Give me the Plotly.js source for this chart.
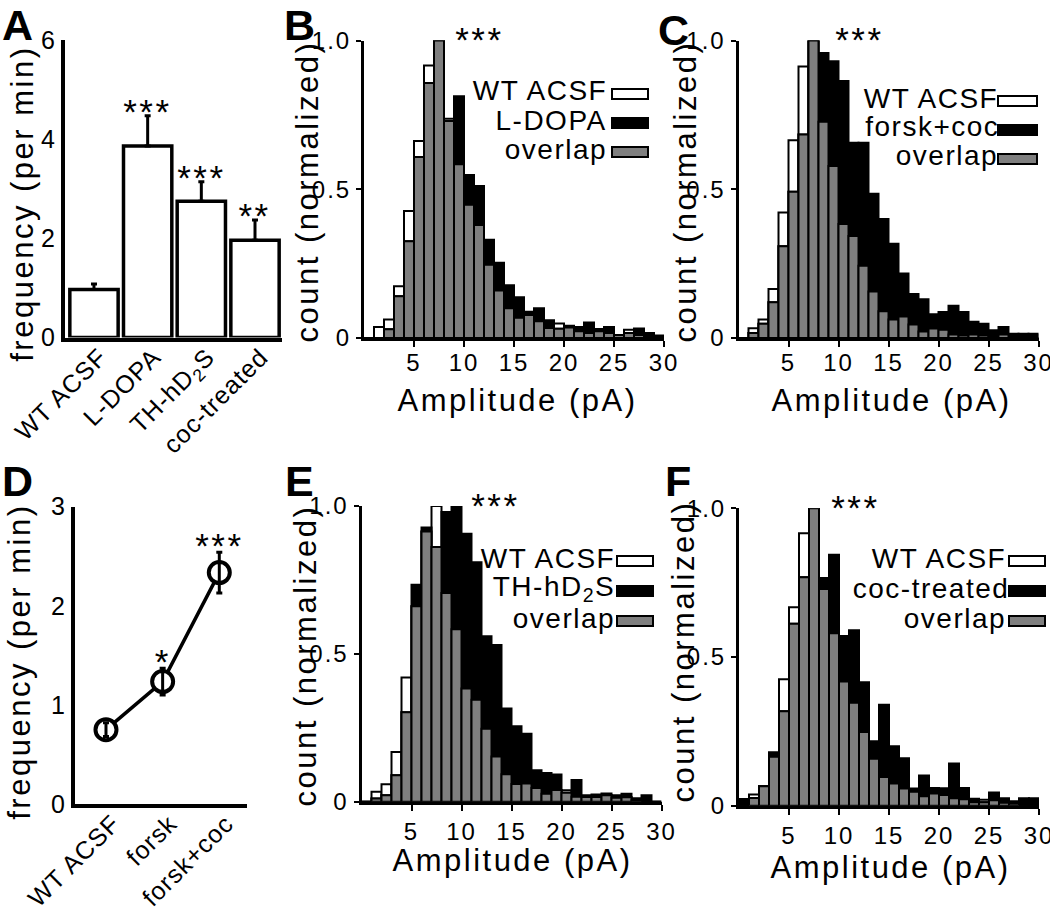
<!DOCTYPE html>
<html>
<head>
<meta charset="utf-8">
<script src="https://cdn.plot.ly/plotly-3.0.1.min.js"></script>
<style>
html, body { margin:0; padding:0; background:#fff; }
#chart { width:1050px; height:909px; }
.main-svg text { letter-spacing: 1px; }
.main-svg text[style*="font-size: 24px"] { letter-spacing: 2px; }
.main-svg text[style*="font-size: 31px"],
.main-svg text[style*="font-size: 35px"] { letter-spacing: 2.5px; }
.main-svg text[style*="font-size: 28px"] { letter-spacing: 1.5px; }
.main-svg text[style*="font-size: 43px"] { letter-spacing: 0px; }
</style>
</head>
<body>
<div id="chart"></div>
<script>
// ================= DATA =================
// Panel A: frequency (per min), bar chart
const aCategories = ['WT ACSF', 'L-DOPA', 'TH-hD<sub>2</sub>S', 'coc-treated'];
const aFrequency  = [0.97, 3.86, 2.75, 1.96];
const aError      = [0.11, 0.61, 0.39, 0.41];
const aStars      = ['', '***', '***', '**'];

// Panel D: frequency (per min), line chart
const dCategories = ['WT ACSF', 'forsk', 'forsk+coc'];
const dFrequency  = [0.75, 1.235, 2.335];
const dError      = [0.07, 0.135, 0.205];
const dStars      = ['', '*', '***'];

// Histograms: 1 pA bins, bin centres (pA)
const binCenters = [0.5, 1.5, 2.5, 3.5, 4.5, 5.5, 6.5, 7.5, 8.5, 9.5,
                    10.5, 11.5, 12.5, 13.5, 14.5, 15.5, 16.5, 17.5, 18.5, 19.5,
                    20.5, 21.5, 22.5, 23.5, 24.5, 25.5, 26.5, 27.5, 28.5, 29.5];
const ampTicks = [5, 10, 15, 20, 25, 30];
const countTicks = [0, 0.5, 1];
const countTickText = ['0', '0.5', '1.0'];

// Panel B
const bLabels  = ['WT ACSF', 'L-DOPA', 'overlap'];
const bWT      = [0, 0.037, 0.0625, 0.174, 0.427, 0.662, 0.916, 1.0, 0.737, 0.584, 0.4475, 0.38, 0.246, 0.16, 0.10, 0.068, 0.077, 0.056, 0.034, 0.049, 0.035, 0.023, 0.017, 0.023, 0.017, 0.01, 0.028, 0.01, 0.005, 0];
const bDrug    = [0, 0, 0.029, 0.14, 0.325, 0.608, 0.857, 1.0, 0.729, 0.8125, 0.548, 0.511, 0.33, 0.253, 0.177, 0.137, 0.088, 0.10, 0.06, 0.031, 0.041, 0.037, 0.052, 0.03, 0.037, 0.01, 0.017, 0.032, 0.017, 0.008];
const bOverlap = [0, 0, 0.029, 0.14, 0.325, 0.608, 0.857, 1.0, 0.729, 0.584, 0.4475, 0.38, 0.246, 0.16, 0.10, 0.068, 0.077, 0.056, 0.034, 0.031, 0.035, 0.023, 0.017, 0.023, 0.017, 0.01, 0.017, 0.01, 0.005, 0];

// Panel C
const cLabels  = ['WT ACSF', 'forsk+coc', 'overlap'];
const cWT      = [0, 0.033, 0.0625, 0.165, 0.422, 0.665, 0.913, 1.0, 0.727, 0.578, 0.383, 0.343, 0.243, 0.156, 0.09, 0.062, 0.072, 0.045, 0.022, 0.032, 0.028, 0.012, 0.008, 0.012, 0.008, 0.004, 0.012, 0, 0, 0];
const cDrug    = [0, 0.017, 0.048, 0.12, 0.308, 0.492, 0.684, 1.0, 0.958, 0.93, 0.864, 0.656, 0.656, 0.485, 0.40, 0.317, 0.217, 0.148, 0.13, 0.08, 0.087, 0.108, 0.087, 0.055, 0.048, 0.026, 0.037, 0.014, 0.014, 0.014];
const cOverlap = [0, 0.017, 0.048, 0.12, 0.308, 0.492, 0.684, 1.0, 0.727, 0.578, 0.383, 0.343, 0.243, 0.156, 0.09, 0.062, 0.072, 0.045, 0.022, 0.032, 0.028, 0.012, 0.008, 0.012, 0.008, 0.004, 0.012, 0, 0, 0];

// Panel E
const eLabels  = ['WT ACSF', 'TH-hD<sub>2</sub>S', 'overlap'];
const eWT      = [0, 0.034, 0.059, 0.168, 0.42, 0.661, 0.914, 1.0, 0.706, 0.583, 0.383, 0.345, 0.247, 0.153, 0.093, 0.06, 0.062, 0.047, 0.027, 0.04, 0.039, 0.017, 0.016, 0.016, 0.022, 0.014, 0.015, 0.005, 0, 0];
const eDrug    = [0, 0.011, 0.022, 0.09, 0.303, 0.734, 0.927, 0.861, 0.98, 1.0, 0.906, 0.81, 0.56, 0.53, 0.315, 0.255, 0.23, 0.107, 0.097, 0.092, 0.031, 0.074, 0.022, 0.025, 0.028, 0.022, 0.027, 0.012, 0.022, 0];
const eOverlap = [0, 0.011, 0.022, 0.09, 0.303, 0.661, 0.914, 0.861, 0.706, 0.583, 0.383, 0.345, 0.247, 0.153, 0.093, 0.06, 0.062, 0.047, 0.027, 0.04, 0.031, 0.017, 0.016, 0.016, 0.022, 0.014, 0.015, 0.005, 0, 0];

// Panel F
const fLabels  = ['WT ACSF', 'coc-treated', 'overlap'];
const fWT      = [0, 0.038, 0.066, 0.165, 0.425, 0.667, 0.916, 1.0, 0.729, 0.58, 0.418, 0.346, 0.248, 0.158, 0.097, 0.075, 0.058, 0.047, 0.032, 0.041, 0.036, 0.025, 0.022, 0.012, 0.02, 0.019, 0.01, 0.008, 0, 0];
const fDrug    = [0.023, 0.026, 0.066, 0.18, 0.318, 0.612, 0.768, 1.0, 0.766, 0.844, 0.571, 0.59, 0.415, 0.217, 0.34, 0.2, 0.16, 0.058, 0.102, 0.06, 0.059, 0.142, 0.06, 0.024, 0.012, 0.045, 0.025, 0.015, 0.025, 0.025];
const fOverlap = [0, 0.026, 0.066, 0.165, 0.318, 0.612, 0.768, 1.0, 0.729, 0.58, 0.418, 0.346, 0.248, 0.158, 0.097, 0.075, 0.058, 0.047, 0.032, 0.041, 0.036, 0.025, 0.022, 0.012, 0.012, 0.019, 0.01, 0.008, 0, 0];

// ================= LAYOUT HELPERS =================
const FONT = "'Liberation Sans', Arial, Helvetica, sans-serif";
const W = 1050, H = 909;
const px = x => x / W;
const py = y => 1 - y / H;
const GRAY = '#7f7f7f';

const traces = [];
const layout = {
  width: W, height: H,
  margin: {l: 0, r: 0, t: 0, b: 0},
  paper_bgcolor: '#ffffff', plot_bgcolor: 'rgba(0,0,0,0)',
  showlegend: false, barmode: 'overlay', hovermode: false,
  font: {family: FONT, color: '#000000'},
  annotations: [], shapes: []
};

function note(text, x, y, size, extra) {
  layout.annotations.push(Object.assign({
    text: text, x: px(x), y: py(y), xref: 'paper', yref: 'paper',
    showarrow: false, xanchor: 'center', yanchor: 'middle',
    font: {family: FONT, size: size, color: '#000000'}
  }, extra || {}));
}

function baseAxis(extra) {
  return Object.assign({
    showline: true, linecolor: '#000000', showgrid: false, zeroline: false,
    fixedrange: true, tickcolor: '#000000', ticklabeloverflow: 'allow'
  }, extra);
}

// ================= PANEL A =================
layout.xaxis = baseAxis({
  domain: [px(65), px(282)], anchor: 'y', type: 'category',
  range: [-0.54, 3.503], linewidth: 4, ticks: '', tickangle: -45,
  tickfont: {size: 25}, ticklabelstandoff: -9, ticklabelshift: 6
});
layout.yaxis = baseAxis({
  domain: [py(337.5), py(40)], anchor: 'x', range: [0, 6],
  tickvals: [0, 2, 4, 6], linewidth: 4, ticks: '', tickfont: {size: 25}
});
traces.push({
  type: 'bar', x: aCategories, y: aFrequency, xaxis: 'x', yaxis: 'y',
  width: 0.9, cliponaxis: false, hoverinfo: 'skip',
  marker: {color: '#ffffff', line: {color: '#000000', width: 3.5}},
  error_y: {type: 'data', symmetric: false, array: aError,
            arrayminus: aError.map(() => 0), color: '#000000', thickness: 3, width: 3}
});
aStars.forEach((s, i) => {
  if (!s) return;
  layout.annotations.push({
    text: s, x: aCategories[i], y: aFrequency[i] + aError[i], xref: 'x', yref: 'y',
    showarrow: false, xanchor: 'center', yanchor: 'middle', yshift: 4,
    font: {family: FONT, size: 35, color: '#000000'}
  });
});
note('frequency (per min)', 22, 204, 31, {textangle: -90});
note('<b>A</b>', 17, 25, 43);

// ================= PANEL D =================
layout.xaxis4 = baseAxis({
  domain: [px(75), px(247)], anchor: 'y4', type: 'category',
  range: [-0.547, 2.489], linewidth: 4, ticks: '', tickangle: -45,
  tickfont: {size: 25}, ticklabelstandoff: -9, ticklabelshift: 7
});
layout.yaxis4 = baseAxis({
  domain: [py(804), py(506.7)], anchor: 'x4', range: [0, 3],
  tickvals: [0, 1, 2, 3], linewidth: 4, ticks: '', tickfont: {size: 25}
});
traces.push({
  type: 'scatter', mode: 'lines', x: dCategories, y: dFrequency,
  xaxis: 'x4', yaxis: 'y4', line: {color: '#000000', width: 3.5},
  cliponaxis: false, hoverinfo: 'skip'
});
traces.push({
  type: 'scatter', mode: 'markers', x: dCategories, y: dFrequency,
  xaxis: 'x4', yaxis: 'y4', cliponaxis: false, hoverinfo: 'skip',
  marker: {symbol: 'circle', size: 21, color: '#ffffff', line: {color: '#000000', width: 4}}
});
traces.push({
  type: 'scatter', mode: 'markers', x: dCategories, y: dFrequency,
  xaxis: 'x4', yaxis: 'y4', cliponaxis: false, hoverinfo: 'skip',
  marker: {size: 2, color: 'rgba(0,0,0,0)'},
  error_y: {type: 'data', array: dError, color: '#000000', thickness: 3, width: 3}
});
dStars.forEach((s, i) => {
  if (!s) return;
  layout.annotations.push({
    text: s, x: dCategories[i], y: dFrequency[i] + dError[i], xref: 'x4', yref: 'y4',
    showarrow: false, xanchor: 'center', yanchor: 'middle', yshift: 6.5,
    font: {family: FONT, size: 35, color: '#000000'}
  });
});
note('frequency (per min)', 19, 662, 31, {textangle: -90});
note('<b>D</b>', 17, 481, 43);

// ================= HISTOGRAM PANELS =================
const histPanels = [
  {id: '2', letter: 'B', wt: bWT, drug: bDrug, overlap: bOverlap, labels: bLabels,
   xd: [364, 664], yd: [40.5, 338], starX: 11.5, tickStandoff: -5,
   textRight: 604, boxX: [612, 648], base: [101, 130, 159],
   xtitle: [517.5, 400], ytitle: [307, 192], letterPos: [299, 25]},
  {id: '3', letter: 'C', wt: cWT, drug: cDrug, overlap: cOverlap, labels: cLabels,
   xd: [738.5, 1038.5], yd: [40.5, 338], starX: 12.1, tickStandoff: -5,
   textRight: 995, boxX: [998, 1037], base: [108, 137, 166],
   xtitle: [891, 400], ytitle: [685, 192], letterPos: [673, 30]},
  {id: '5', letter: 'E', wt: eWT, drug: eDrug, overlap: eOverlap, labels: eLabels,
   xd: [361.5, 661.5], yd: [506, 801.8], starX: 13.4, tickStandoff: 0,
   textRight: 612, boxX: [617, 653], base: [568, 598, 628],
   xtitle: [512, 860], ytitle: [305, 656], letterPos: [299, 481]},
  {id: '6', letter: 'F', wt: fWT, drug: fDrug, overlap: fOverlap, labels: fLabels,
   xd: [739, 1039], yd: [508.3, 805.8], starX: 11.6, tickStandoff: 0,
   textRight: 1003, boxX: [1009, 1045], base: [568, 598, 628],
   xtitle: [890, 867], ytitle: [683, 652], letterPos: [678, 481]}
];
const fills = ['#ffffff', '#000000', GRAY];

histPanels.forEach(p => {
  layout['xaxis' + p.id] = baseAxis({
    domain: [px(p.xd[0]), px(p.xd[1])], anchor: 'y' + p.id, range: [0, 30],
    tickvals: ampTicks, ticks: 'outside', ticklen: 6, tickwidth: 2,
    linewidth: 3, tickfont: {size: 24}, ticklabelstandoff: p.tickStandoff
  });
  layout['yaxis' + p.id] = baseAxis({
    domain: [py(p.yd[1]), py(p.yd[0])], anchor: 'x' + p.id, range: [0, 1],
    tickvals: countTicks, ticktext: countTickText, ticks: 'outside', ticklen: 5,
    tickwidth: 2, linewidth: 3, tickfont: {size: 24}
  });
  [p.wt, p.drug, p.overlap].forEach((vals, k) => {
    traces.push({
      type: 'bar', x: binCenters, y: vals, width: 1,
      xaxis: 'x' + p.id, yaxis: 'y' + p.id, cliponaxis: false, hoverinfo: 'skip',
      marker: {color: fills[k], line: {color: '#000000', width: 2}}
    });
  });
  // significance stars
  layout.annotations.push({
    text: '***', x: p.starX, y: 1, xref: 'x' + p.id, yref: 'y' + p.id,
    showarrow: false, xanchor: 'center', yanchor: 'middle', yshift: 1,
    font: {family: FONT, size: 35, color: '#000000'}
  });
  // legend
  p.labels.forEach((lab, k) => {
    layout.shapes.push({
      type: 'rect', xref: 'paper', yref: 'paper',
      x0: px(p.boxX[0]), x1: px(p.boxX[1]),
      y0: py(p.base[k] - 2), y1: py(p.base[k] - 12),
      fillcolor: fills[k], line: {color: '#000000', width: 2}
    });
    note(lab, p.textRight, p.base[k] - 10, 28, {xanchor: 'right'});
  });
  note('Amplitude (pA)', p.xtitle[0], p.xtitle[1], 31);
  note('count (normalized)', p.ytitle[0], p.ytitle[1], 31, {textangle: -90});
  note('<b>' + p.letter + '</b>', p.letterPos[0], p.letterPos[1], 43);
});

Plotly.newPlot('chart', traces, layout, {staticPlot: true, displayModeBar: false});
</script>
</body>
</html>
